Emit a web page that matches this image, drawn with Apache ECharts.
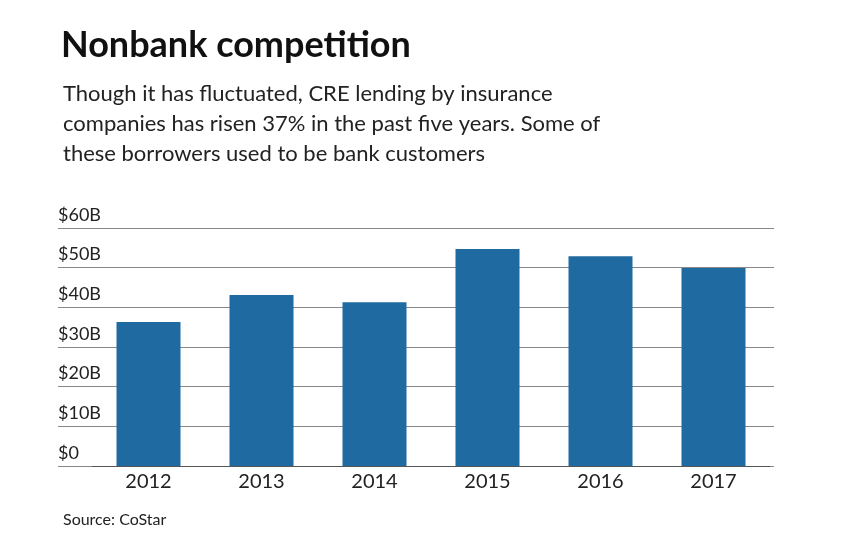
<!DOCTYPE html><html><head><meta charset="utf-8"><script src="https://cdn.jsdelivr.net/npm/echarts@6/dist/echarts.min.js"></script></head><body style="margin:0"><div id="c" style="width:844px;height:550px"></div><script>
const years=['2012','2013','2014','2015','2016','2017'];
const values=[36.3,43.1,41.3,54.7,52.9,49.9];
const ticks=['$0','$10B','$20B','$30B','$40B','$50B','$60B'];
const ch=echarts.init(document.getElementById('c'));
const F='Lato, "Open Sans", sans-serif';
ch.setOption({
 animation:false,backgroundColor:'#fff',
 title:[{text:'Nonbank competition',left:56,top:22,textStyle:{fontFamily:F,fontSize:36,fontWeight:'bold',color:'#111'}},
 {text:'Though it has fluctuated, CRE lending by insurance\ncompanies has risen 37% in the past five years. Some of\nthese borrowers used to be bank customers',left:58,top:74,textStyle:{fontFamily:F,fontSize:22,fontWeight:'normal',color:'#222',lineHeight:30}},
 {text:'Source: CoStar',left:58,top:507,textStyle:{fontFamily:F,fontSize:16,fontWeight:'normal',color:'#222'}}],
 grid:[{left:58,right:70,top:228,bottom:84},{left:92,right:74,top:228,bottom:84}],
 xAxis:[{gridIndex:0,type:'value',show:false,min:0,max:1},
 {gridIndex:1,type:'category',data:years,axisTick:{show:false},axisLine:{lineStyle:{color:'#555'}},axisLabel:{fontFamily:F,fontSize:20,color:'#222',margin:6}}],
 yAxis:[{gridIndex:0,type:'value',min:0,max:60,interval:10,axisLine:{show:false},axisTick:{show:false},
  splitLine:{lineStyle:{color:'#888',width:1}},
  axisLabel:{inside:true,margin:0,verticalAlign:'bottom',padding:[0,0,4,0],fontFamily:F,fontSize:18,color:'#222',formatter:v=>ticks[v/10]}},
 {gridIndex:1,type:'value',min:0,max:60,show:false}],
 series:[{type:'bar',xAxisIndex:1,yAxisIndex:1,data:values,barWidth:64,itemStyle:{color:'#1f6aa0'},z:3}]
});
</script></body></html>
